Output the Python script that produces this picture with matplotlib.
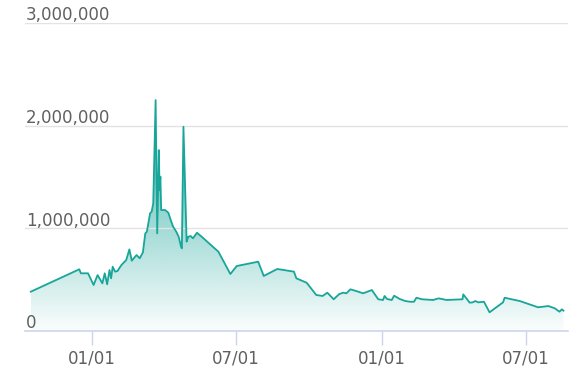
import numpy as np
import pandas as pd
import matplotlib
matplotlib.use("Agg")
import matplotlib.pyplot as plt
import matplotlib.dates as mdates
from matplotlib.patches import Polygon
import matplotlib.transforms as mtransforms

# values
dates = [
    "2017-10-16", "2017-12-16", "2017-12-18", "2017-12-27", "2018-01-03", "2018-01-08",
    "2018-01-14", "2018-01-17", "2018-01-20", "2018-01-23", "2018-01-25", "2018-01-27",
    "2018-01-30", "2018-02-02", "2018-02-07", "2018-02-13", "2018-02-17", "2018-02-20",
    "2018-02-26", "2018-03-02", "2018-03-06", "2018-03-09", "2018-03-11", "2018-03-15",
    "2018-03-17", "2018-03-19", "2018-03-22", "2018-03-24", "2018-03-26", "2018-03-27",
    "2018-03-28", "2018-03-29", "2018-04-03", "2018-04-07", "2018-04-10", "2018-04-13",
    "2018-04-17", "2018-04-20", "2018-04-23", "2018-04-24", "2018-04-26", "2018-04-30",
    "2018-05-02", "2018-05-05", "2018-05-08", "2018-05-13", "2018-05-19", "2018-06-09",
    "2018-06-24", "2018-07-02", "2018-07-29", "2018-08-05", "2018-08-22", "2018-09-12",
    "2018-09-15", "2018-09-28", "2018-10-10", "2018-10-18", "2018-10-24", "2018-11-01",
    "2018-11-08", "2018-11-13", "2018-11-17", "2018-11-22", "2018-11-29", "2018-12-08",
    "2018-12-19", "2018-12-27", "2019-01-02", "2019-01-04", "2019-01-07", "2019-01-13",
    "2019-01-16", "2019-01-23", "2019-01-30", "2019-02-05", "2019-02-10", "2019-02-13",
    "2019-02-20", "2019-03-06", "2019-03-13", "2019-03-23", "2019-04-12", "2019-04-13",
    "2019-04-21", "2019-04-25", "2019-04-28", "2019-05-02", "2019-05-09", "2019-05-16",
    "2019-06-02", "2019-06-04", "2019-06-23", "2019-07-16", "2019-07-29", "2019-08-06",
    "2019-08-12", "2019-08-15", "2019-08-17",
]
values = [
    383000, 601000, 562000, 562000, 448000, 545000,
    464000, 562000, 455000, 594000, 513000, 626000,
    578000, 584000, 643000, 691000, 795000, 685000,
    740000, 708000, 766000, 951000, 967000, 1146000,
    1162000, 1243000, 2249000, 951000, 1762000, 1373000,
    1503000, 1178000, 1178000, 1152000, 1081000, 1016000,
    967000, 918000, 821000, 805000, 1989000, 870000,
    918000, 925000, 903000, 957000, 918000, 772000,
    555000, 633000, 675000, 536000, 604000, 578000,
    513000, 470000, 351000, 341000, 373000, 309000,
    360000, 373000, 367000, 406000, 390000, 367000,
    399000, 309000, 302000, 341000, 312000, 302000,
    344000, 312000, 292000, 285000, 285000, 324000,
    309000, 302000, 318000, 302000, 309000, 357000,
    276000, 279000, 292000, 279000, 285000, 182000,
    279000, 324000, 292000, 231000, 243000, 221000,
    188000, 211000, 198000,
]
x_ticks = ["2018-01-01", "2018-07-01", "2019-01-01", "2019-07-01"]
y_ticks = [0, 1000000, 2000000, 3000000]

line_color = "#18a59a"
text_color = "#606060"

x = mdates.date2num(pd.to_datetime(dates))
y = np.array(values, float)

fig = plt.figure(figsize=(5.84, 3.82), dpi=100)
ax = fig.add_axes([25 / 584, 1 - 331 / 382, 543 / 584, 308 / 382])

jan1 = mdates.date2num(pd.Timestamp("2018-01-01"))
ax.set_xlim(jan1 - 84.3, jan1 + 598.7)
ax.set_ylim(0, 3000000)

# gradient fill under the line
verts = np.vstack([[x[0], 0], np.column_stack([x, y]), [x[-1], 0]])
poly = Polygon(verts, closed=True, facecolor="none", edgecolor="none")
ax.add_patch(poly)
grad = np.linspace(0, 1, 256).reshape(-1, 1)
rgba = np.zeros((256, 1, 4))
rgba[..., :3] = matplotlib.colors.to_rgb(line_color)
rgba[..., 3] = 0.02 + 0.85 * grad
img = ax.imshow(rgba, aspect="auto", origin="lower",
                extent=[x[0], x[-1], 0, y.max()], zorder=1)
img.set_clip_path(poly)

ax.plot(x, y, color=line_color, lw=1.3, zorder=3)

# grid lines over the fill, labels sitting on them
for v in y_ticks[1:]:
    ax.axhline(v, color="#e3e3e3", lw=1, zorder=2)
trans = mtransforms.blended_transform_factory(ax.transAxes, ax.transData)
for v in y_ticks:
    ax.text(0.002, v + 25000, f"{v:,}", transform=trans, ha="left",
            va="baseline", fontsize=12, color=text_color)

ax.set_yticks([])
ax.set_xticks(mdates.date2num(pd.to_datetime(x_ticks)))
ax.set_xticklabels([pd.Timestamp(t).strftime("%m/%d") for t in x_ticks])
ax.tick_params(axis="x", length=10, width=1, color="#ccd6eb", pad=3,
               labelsize=12, labelcolor=text_color)

for s in ["left", "right", "top"]:
    ax.spines[s].set_visible(False)
ax.spines["bottom"].set_color("#ccd6eb")
ax.spines["bottom"].set_linewidth(1.2)
ax.spines["bottom"].set_zorder(4)

fig.savefig("out.png", dpi=100)
